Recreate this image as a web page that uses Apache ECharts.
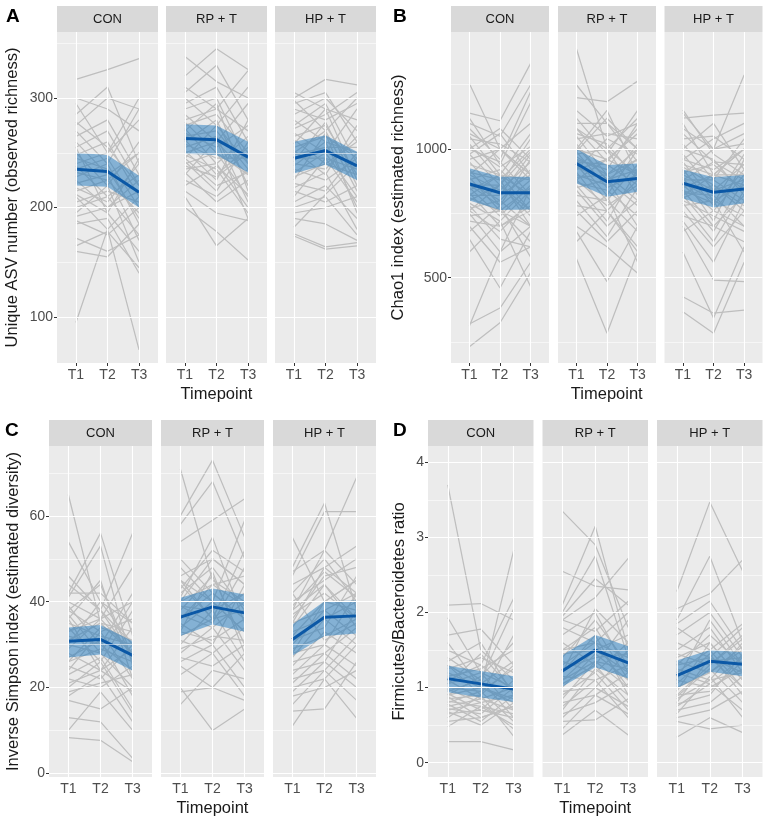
<!DOCTYPE html>
<html>
<head>
<meta charset="utf-8">
<script src="https://cdn.jsdelivr.net/npm/echarts@6/dist/echarts.min.js"></script>
<style>
  html, body { margin: 0; padding: 0; background: #fff; }
  #chart { width: 767px; height: 821px; }
</style>
</head>
<body>
<div id="chart"></div>
<script>
const timepoints = ['T1', 'T2', 'T3'];
const groups = ['CON', 'RP + T', 'HP + T'];

// A - unique ASV number (observed richness), one row per subject: T1, T2, T3
const asvCon = [
  [317,326,336],[300,290,270],[295,250,300],[285,310,240],[275,300,290],[270,240,290],
  [265,280,230],[260,230,250],[255,270,220],[250,220,260],[248,260,210],[245,235,190],
  [240,250,280],[238,210,230],[235,245,200],[232,225,250],[228,240,185],[225,200,215],
  [222,230,170],[218,205,240],[215,225,195],[212,195,160],[210,180,70],[205,215,205],
  [200,210,175],[195,220,150],[192,200,225],[188,175,200],[185,190,140],[172,160,175],
  [165,178,145],[160,155,185],[95,180,210],[278,255,220],[255,195,245]
];
const asvRp = [
  [338,315,300],[320,345,326],[310,290,325],[305,330,280],[300,275,310],[295,310,260],
  [290,300,240],[285,260,295],[280,290,270],[278,250,230],[275,285,250],[272,240,265],
  [270,295,215],[268,255,275],[265,270,235],[262,230,255],[260,280,220],[258,245,245],
  [255,265,205],[252,225,280],[250,260,230],[248,235,195],[245,275,240],[242,215,260],
  [240,250,210],[238,228,250],[235,240,200],[232,205,225],[230,262,190],[225,210,235],
  [220,238,212],[215,195,188],[210,165,190],[200,178,152],[245,220,232]
];
const asvHp = [
  [305,290,280],[300,317,312],[298,270,300],[295,305,260],[290,280,295],[285,300,270],
  [280,260,250],[275,295,240],[272,285,305],[268,250,290],[265,275,230],[262,240,260],
  [258,290,225],[255,265,245],[252,230,275],[250,270,215],[248,255,255],[245,245,235],
  [242,278,220],[240,235,265],[238,260,200],[235,225,245],[232,250,210],[228,240,230],
  [225,268,195],[222,215,250],[218,232,180],[215,205,220],[210,245,205],[205,220,190],
  [200,210,175],[195,200,210],[190,185,170],[182,212,240],[174,162,165],[176,164,168]
];
const asvMean = [[235,233,214],[263,262,246],[245,252,238]];
const asvLow  = [[220,219,200],[249,248,232],[231,239,225]];
const asvHigh = [[250,248,229],[276,275,260],[260,266,251]];
const asvTicks = [100,200,300];
const asvMinor = [150,250,350];

// B - Chao1 index (estimated richness)
const chaoCon = [
  [1255,1000,900],[1140,1110,1333],[1100,1050,1250],[1080,960,1223],[1060,1000,880],
  [1050,900,1060],[1040,1020,950],[1020,880,1000],[1000,950,820],[980,860,1040],
  [960,1000,900],[950,820,980],[940,900,760],[920,780,880],[910,880,700],
  [900,840,950],[890,760,850],[880,920,800],[870,800,920],[860,860,740],
  [850,740,860],[840,900,820],[830,700,780],[820,820,900],[810,760,700],
  [800,860,760],[790,720,840],[780,650,620],[770,800,700],[760,680,800],
  [750,600,850],[740,760,640],[720,700,760],[700,560,620],[680,780,580],
  [650,460,680],[600,720,465],[320,382,560],[312,600,700],[232,325,520],
  [980,1060,900],[1010,930,1010],[1120,940,1180],[1000,1080,960],[900,1000,1100],
  [860,780,960],[820,900,880],[760,860,990]
];
const chaoRp = [
  [1391,1000,900],[1200,1184,1264],[1150,1050,1100],[1120,980,1150],[1100,1100,950],
  [1080,950,1080],[1060,1020,880],[1050,900,1000],[1040,1060,1040],[1020,880,920],
  [1000,960,1060],[990,850,900],[980,1000,820],[970,900,960],[960,820,1000],
  [950,940,860],[940,800,940],[930,880,780],[920,960,900],[910,760,880],
  [900,860,1020],[890,900,800],[880,780,860],[870,840,740],[860,720,920],
  [850,880,700],[840,700,800],[820,800,680],[800,660,850],[780,760,620],
  [760,640,760],[740,820,560],[700,620,517],[680,485,700],[640,760,600],
  [575,284,600],[1010,880,960],[960,920,1100],[1250,1100,1000],[1080,1000,1120],
  [1000,1150,900],[920,1040,980],[880,960,1060],[990,1120,1000]
];
const chaoHp = [
  [1152,980,900],[1120,1132,1140],[1100,900,1000],[1080,1000,1288],[1060,950,880],
  [1040,1050,960],[1020,880,1040],[1000,960,820],[980,840,940],[960,920,1000],
  [950,800,860],[940,900,900],[930,860,780],[920,780,920],[910,940,840],
  [900,840,880],[890,720,960],[880,880,800],[870,800,740],[860,760,900],
  [850,900,860],[840,700,820],[830,820,700],[820,680,880],[810,860,760],
  [800,740,680],[790,640,840],[780,800,600],[760,620,760],[740,700,640],
  [720,560,800],[700,491,485],[680,760,700],[600,343,620],[426,362,374],
  [368,284,560],[840,790,980],[1140,1000,1060],[1000,1100,920],[960,1040,1100],
  [900,1000,1020],[880,950,940],[820,900,1000]
];
const chaoMean = [[864,830,830],[944,873,886],[867,832,845]];
const chaoLow  = [[800,763,765],[867,815,834],[808,773,789]];
const chaoHigh = [[925,892,892],[1000,938,944],[921,890,899]];
const chaoTicks = [500,1000];
const chaoMinor = [250,750,1250];

// C - inverse Simpson index (estimated diversity)
const simpCon = [
  [65,35,28],[54,40,30],[46,38,56],[42,56,32],[42,42,35],[41,53,25],[40,36,48],
  [39,30,42],[38,33,36],[37,28,40],[36,45,22],[35,32,30],[34,26,38],[33,38,27],
  [32,30,24],[31,35,33],[30,28,20],[29,36,28],[28,24,34],[27,31,18],[26,29,26],
  [25,22,30],[24,33,22],[23,27,15],[22,20,25],[21,24,29],[20,26,14],[19,21,23],
  [18,23,12],[17,15,20],[13,12,3.5],[10,19,10],[8.3,7.7,2.7],[26,34,31],[36,24,19],
  [30,40,35],[44,38,30],[38,44,26],[33,36,40]
];
const simpRp = [
  [71,45,40],[60,73,55],[58,68,50],[54,59,64],[48,40,59],[46,50,44],[44,36,52],
  [42,48,38],[41,55,35],[40,44,46],[39,38,42],[38,46,30],[37,34,40],[36,42,36],
  [35,30,44],[34,40,33],[33,47,28],[32,36,38],[31,28,34],[30,38,26],[29,32,31],
  [28,34,24],[27,25,30],[26,30,20],[25,20,28],[23,28,18],[20,10,15],[19,20,17],
  [16,24,22],[43,52,47],[36,44,39],[39,35,48],[33,31,36],[45,40,33],
  [50,42,36],[45,36,42],[40,50,44]
];
const simpHp = [
  [55,40,45],[48,63,38],[47,52,69],[46,61,61],[44,48,53],[42,50,40],[40,45,50],
  [38,52,44],[37,42,36],[36,46,48],[35,38,42],[34,44,34],[33,36,40],[32,40,38],
  [31,34,46],[30,38,32],[29,32,36],[28,30,42],[27,36,30],[26,28,34],[25,33,28],
  [24,26,38],[23,30,25],[22,24,32],[21,28,22],[20,22,30],[19,26,20],[18,20,24],
  [16,24,17],[14.5,15,26],[11,22,12.8],[42,31,35],[39,47,41],[28,40,45],
  [38,44,36],[35,48,42]
];
const simpMean = [[30.8,31.2,27.5],[36.4,38.8,37.4],[31.2,36.4,36.7]];
const simpLow  = [[27,27.7,23.9],[32,34.7,33],[27.4,32,32.6]];
const simpHigh = [[34,34.6,30.8],[40.9,43.1,41.7],[34.7,40.1,40.3]];
const simpTicks = [0,20,40,60];
const simpMinor = [10,30,50,70];

// D - Firmicutes/Bacteroidetes ratio
const fbCon = [
  [3.7,1.5,1.1],[2.1,2.12,1.9],[1.93,1.2,1.0],[1.7,1.78,1.3],[1.6,1.0,2.83],
  [1.5,1.3,2.19],[1.4,1.1,2.05],[1.35,1.6,0.9],[1.3,0.9,1.7],[1.25,1.4,1.2],
  [1.2,1.0,0.8],[1.15,1.25,1.5],[1.1,0.85,1.0],[1.05,1.2,0.7],[1.0,0.95,1.25],
  [0.98,0.8,0.9],[0.95,1.1,0.6],[0.92,0.7,1.1],[0.9,1.0,0.85],[0.88,0.6,0.75],
  [0.85,0.9,1.3],[0.82,0.75,0.65],[0.8,0.95,0.55],[0.78,0.55,0.9],[0.75,0.85,0.7],
  [0.72,0.65,1.0],[0.7,0.8,0.45],[0.68,0.5,0.8],[0.65,0.7,0.6],[0.6,0.9,0.35],
  [0.55,0.6,0.75],[0.48,0.75,0.5],[0.28,0.28,0.17],[1.05,1.45,0.95],[0.9,1.15,1.6],
  [1.3,1.05,1.35],[1.1,1.3,0.95]
];
const fbRp = [
  [3.35,2.9,1.8],[2.55,2.35,2.3],[2.1,3.15,1.5],[2.0,2.75,1.4],[1.95,2.45,2.1],
  [1.9,2.2,2.72],[1.8,1.6,2.0],[1.7,2.0,1.2],[1.6,1.3,1.9],[1.5,1.8,1.1],
  [1.45,1.5,1.7],[1.4,1.9,1.3],[1.35,1.2,1.6],[1.3,1.6,1.0],[1.25,1.4,1.45],
  [1.2,1.7,0.9],[1.15,1.1,1.3],[1.1,1.5,1.2],[1.05,1.3,0.8],[1.0,1.45,1.1],
  [0.95,1.0,1.5],[0.9,1.2,0.7],[0.85,1.35,1.0],[0.8,0.9,1.2],[0.75,1.1,0.6],
  [0.7,1.25,0.9],[0.65,0.8,1.05],[0.6,1.0,0.75],[0.55,0.57,0.85],[0.45,0.9,0.65],
  [0.37,0.7,0.37],[1.9,1.75,2.15],[1.2,2.05,1.6],[1.5,1.6,1.4],[1.1,1.35,1.25]
];
const fbHp = [
  [2.28,3.47,2.55],[2.05,2.25,2.7],[1.9,2.75,1.6],[1.85,2.15,1.5],[1.8,1.5,1.85],
  [1.7,2.0,1.4],[1.6,1.4,1.8],[1.5,1.8,1.2],[1.45,1.3,1.7],[1.4,1.6,1.1],
  [1.35,1.2,1.55],[1.3,1.7,1.3],[1.25,1.1,1.6],[1.2,1.5,1.0],[1.15,1.35,1.4],
  [1.1,1.0,1.25],[1.05,1.45,0.9],[1.0,1.2,1.5],[0.95,1.6,1.1],[0.9,0.95,1.35],
  [0.88,1.25,0.8],[0.85,1.1,1.2],[0.8,1.4,1.0],[0.78,0.9,1.45],[0.75,1.05,0.7],
  [0.7,0.8,1.15],[0.65,1.15,0.6],[0.6,0.7,0.95],[0.55,0.45,0.5],[0.34,0.6,0.4],
  [0.9,1.3,1.65],[1.1,1.9,1.3],[1.3,1.4,1.2],[1.2,1.05,1.4]
];
const fbMean = [[1.12,1.05,0.98],[1.22,1.5,1.33],[1.16,1.35,1.31]];
const fbLow  = [[0.94,0.87,0.81],[1.01,1.27,1.12],[0.99,1.21,1.15]];
const fbHigh = [[1.29,1.22,1.15],[1.43,1.7,1.55],[1.36,1.5,1.47]];
const fbTicks = [0,1,2,3,4];
const fbMinor = [0.5,1.5,2.5,3.5];

// layout of the four panels (pixels)
const panels = [
  { letter: 'A', lines: [asvCon, asvRp, asvHp], mean: asvMean, low: asvLow, high: asvHigh,
    ticks: asvTicks, minor: asvMinor, ymin: 58, ymax: 360.3,
    title: 'Unique ASV number (observed richness)', titleX: 12,
    lefts: [57, 166, 275], width: 101, top: 32, letterX: 6 },
  { letter: 'B', lines: [chaoCon, chaoRp, chaoHp], mean: chaoMean, low: chaoLow, high: chaoHigh,
    ticks: chaoTicks, minor: chaoMinor, ymin: 168.5, ymax: 1455,
    title: 'Chao1 index (estimated richness)', titleX: 398,
    lefts: [451, 558, 664.5], width: 98, top: 32, letterX: 393 },
  { letter: 'C', lines: [simpCon, simpRp, simpHp], mean: simpMean, low: simpLow, high: simpHigh,
    ticks: simpTicks, minor: simpMinor, ymin: -0.86, ymax: 76.3,
    title: 'Inverse Simpson index (estimated diversity)', titleX: 13,
    lefts: [49, 161, 273], width: 103, top: 446, letterX: 5 },
  { letter: 'D', lines: [fbCon, fbRp, fbHp], mean: fbMean, low: fbLow, high: fbHigh,
    ticks: fbTicks, minor: fbMinor, ymin: -0.19, ymax: 4.217,
    title: 'Firmicutes/Bacteroidetes ratio', titleX: 399,
    lefts: [428, 542.5, 657], width: 105.5, top: 446, letterX: 393 }
];
const panelH = 331;
const stripH = 26;
const font = '"Liberation Sans", Arial, sans-serif';
const xTickVals = timepoints.map((t, i) => i + 1);

const grids = [], xAxes = [], yAxes = [], series = [], graphics = [];

panels.forEach(p => {
  groups.forEach((grp, j) => {
    const g = grids.length;
    const left = p.lefts[j];
    grids.push({ left: left, top: p.top, width: p.width, height: panelH,
      show: true, backgroundColor: '#ebebeb', borderWidth: 0 });
    xAxes.push({
      type: 'value', gridIndex: g, min: 0.4, max: 3.6,
      axisLine: { show: false }, splitLine: { show: false },
      axisTick: { show: true, customValues: xTickVals, length: 3, lineStyle: { color: '#333', width: 1 } },
      axisLabel: { customValues: xTickVals, formatter: v => timepoints[Math.round(v) - 1],
        color: '#4d4d4d', fontSize: 14, fontFamily: font, margin: 5 }
    });
    yAxes.push({
      type: 'value', gridIndex: g, min: p.ymin, max: p.ymax,
      axisLine: { show: false }, splitLine: { show: false },
      axisTick: { show: j === 0, customValues: p.ticks, length: 3, lineStyle: { color: '#333', width: 1 } },
      axisLabel: { show: j === 0, customValues: p.ticks, formatter: v => String(v),
        color: '#4d4d4d', fontSize: 14, fontFamily: font, margin: 4 }
    });

    // panel grid lines
    const gl = [];
    xTickVals.forEach(v => gl.push({ xAxis: v, lineStyle: { color: '#fff', width: 1.1, type: 'solid' } }));
    p.ticks.forEach(v => gl.push({ yAxis: v, lineStyle: { color: '#fff', width: 1.1, type: 'solid' } }));
    p.minor.forEach(v => gl.push({ yAxis: v, lineStyle: { color: '#fff', width: 0.55, type: 'solid' } }));
    series.push({
      type: 'line', xAxisIndex: g, yAxisIndex: g, z: 1, silent: true,
      data: [[1, p.ticks[0]]], symbol: 'none', lineStyle: { opacity: 0 },
      markLine: { silent: true, symbol: 'none', label: { show: false }, animation: false, data: gl }
    });

    // individual subjects
    p.lines[j].forEach(vals => {
      series.push({
        type: 'line', xAxisIndex: g, yAxisIndex: g, z: 2, silent: true,
        data: vals.map((v, i) => [i + 1, v]), symbol: 'none',
        lineStyle: { color: '#bebebe', width: 1.25 }
      });
    });

    // confidence ribbon
    const lo = p.low[j], hi = p.high[j];
    series.push({
      type: 'custom', xAxisIndex: g, yAxisIndex: g, z: 3, silent: true,
      data: timepoints.map((t, i) => [i + 1, lo[i], hi[i]]),
      renderItem: (params, api) => {
        if (params.dataIndex !== 0) return null;
        const upper = hi.map((v, i) => api.coord([i + 1, v]));
        const lower = lo.map((v, i) => api.coord([i + 1, v])).reverse();
        return { type: 'polygon', shape: { points: upper.concat(lower) },
          style: { fill: 'rgba(30,120,190,0.5)' } };
      }
    });

    // group mean
    series.push({
      type: 'line', xAxisIndex: g, yAxisIndex: g, z: 4, silent: true,
      data: p.mean[j].map((v, i) => [i + 1, v]), symbol: 'none',
      lineStyle: { color: '#0b58a6', width: 3 }
    });

    // facet strip
    graphics.push({ type: 'rect', shape: { x: left, y: p.top - stripH, width: p.width, height: stripH },
      style: { fill: '#d9d9d9' }, silent: true });
    graphics.push({ type: 'text', x: left + p.width / 2, y: p.top - stripH / 2,
      style: { text: grp, fill: '#1a1a1a', font: '13px ' + font, textAlign: 'center', textVerticalAlign: 'middle' } });
  });

  const l = p.lefts, right = l[2] + p.width;
  graphics.push({ type: 'text', x: p.letterX, y: p.top - stripH + 1,
    style: { text: p.letter, fill: '#000', font: 'bold 19px ' + font, textAlign: 'left', textVerticalAlign: 'top' } });
  graphics.push({ type: 'text', x: p.titleX, y: p.top + panelH / 2, rotation: Math.PI / 2,
    style: { text: p.title, fill: '#1a1a1a', font: '16.5px ' + font, textAlign: 'center', textVerticalAlign: 'middle' } });
  graphics.push({ type: 'text', x: (l[0] + right) / 2, y: p.top + panelH + 31,
    style: { text: 'Timepoint', fill: '#1a1a1a', font: '16.5px ' + font, textAlign: 'center', textVerticalAlign: 'middle' } });
});

const chart = echarts.init(document.getElementById('chart'), null, { renderer: 'canvas' });
chart.setOption({
  animation: false,
  backgroundColor: '#fff',
  grid: grids,
  xAxis: xAxes,
  yAxis: yAxes,
  series: series,
  graphic: { elements: graphics }
});
</script>
</body>
</html>
